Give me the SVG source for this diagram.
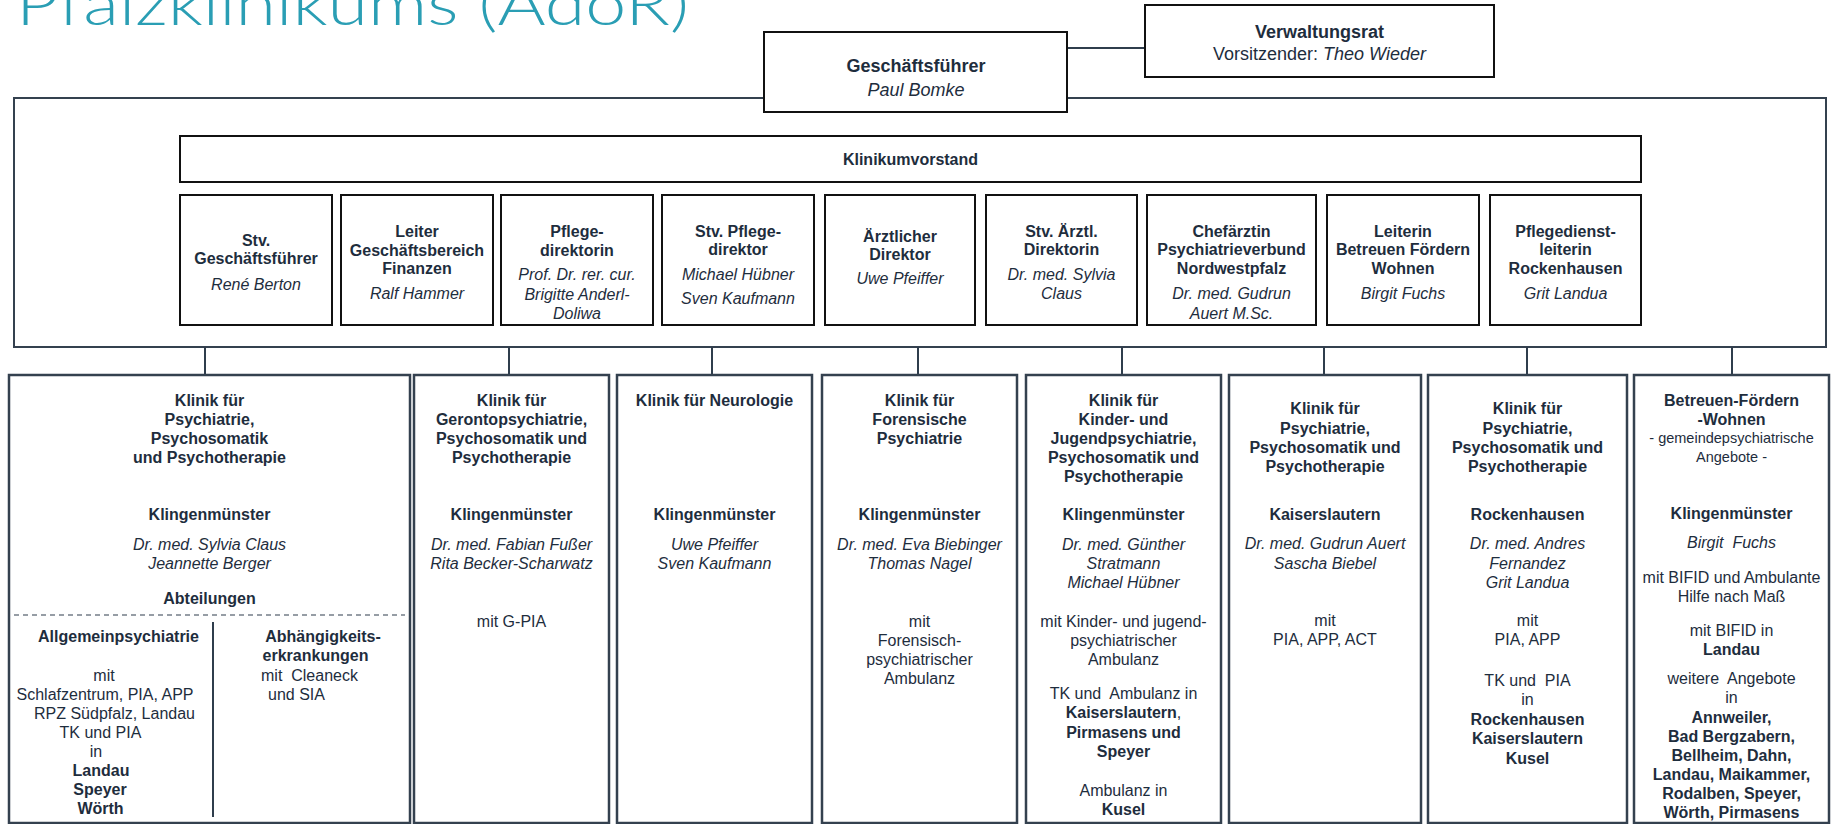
<svg xmlns="http://www.w3.org/2000/svg" width="1837" height="824" viewBox="0 0 1837 824">
<style>
text{font-family:"Liberation Sans",Arial,sans-serif;font-size:16px;fill:#1e2d3d;text-anchor:middle}
.b{font-weight:bold}
.i{font-style:italic}
.l{text-anchor:start}
.big{font-size:18px}
.sm{font-size:14.5px}
.title{font-family:"Lato","Open Sans",sans-serif;font-weight:300;font-size:60px;fill:#2a9eb4;text-anchor:start}
.box{fill:#fff;stroke:#111;stroke-width:2}
.outer{fill:none;stroke:#34414f;stroke-width:2}
.kbox{fill:#fff;stroke:#34414f;stroke-width:2.5}
.conn{stroke:#2f3d4c;stroke-width:2;fill:none}
.dash{stroke:#2f3d4c;stroke-width:1.2;stroke-dasharray:5 4;fill:none}
</style>

<text class="title" x="16" y="25" textLength="673" lengthAdjust="spacingAndGlyphs">Pfalzklinikums (AdöR)</text>

<g id="vorstand-frame">
<rect class="outer" x="14" y="98" width="1812" height="249"/>
</g>

<g id="connectors">
<line class="conn" x1="1067" y1="48" x2="1145" y2="48"/>
<line class="conn" x1="205" y1="347" x2="205" y2="375"/>
<line class="conn" x1="509" y1="347" x2="509" y2="375"/>
<line class="conn" x1="712" y1="347" x2="712" y2="375"/>
<line class="conn" x1="918" y1="347" x2="918" y2="375"/>
<line class="conn" x1="1122" y1="347" x2="1122" y2="375"/>
<line class="conn" x1="1324" y1="347" x2="1324" y2="375"/>
<line class="conn" x1="1527" y1="347" x2="1527" y2="375"/>
<line class="conn" x1="1732" y1="347" x2="1732" y2="375"/>
</g>

<g id="geschaeftsfuehrer">
<rect class="box" x="764" y="32" width="303" height="80"/>
<text class="b big" x="916" y="71.5">Geschäftsführer</text>
<text class="i big" x="916" y="95.5">Paul Bomke</text>
</g>

<g id="verwaltungsrat">
<rect class="box" x="1145" y="5" width="349" height="72"/>
<text class="b big" x="1319.5" y="38">Verwaltungsrat</text>
<text class="big" x="1319.5" y="59.5">Vorsitzender: <tspan class="i">Theo Wieder</tspan></text>
</g>

<g id="klinikumvorstand">
<rect class="box" x="180" y="136" width="1461" height="46"/>
<text class="b" x="910.5" y="165">Klinikumvorstand</text>
</g>

<g id="v1">
<rect class="box" x="180" y="195" width="152" height="130"/>
<text class="b" x="256" y="245.7">Stv.</text>
<text class="b" x="256" y="264">Geschäftsführer</text>
<text class="i" x="256" y="290">René Berton</text>
</g>
<g id="v2">
<rect class="box" x="341" y="195" width="152" height="130"/>
<text class="b" x="417" y="236.5">Leiter</text>
<text class="b" x="417" y="255.5">Geschäftsbereich</text>
<text class="b" x="417" y="274">Finanzen</text>
<text class="i" x="417" y="299">Ralf Hammer</text>
</g>
<g id="v3">
<rect class="box" x="501" y="195" width="152" height="130"/>
<text class="b" x="577" y="236.5">Pflege-</text>
<text class="b" x="577" y="255.5">direktorin</text>
<text class="i" x="577" y="280">Prof. Dr. rer. cur.</text>
<text class="i" x="577" y="299.5">Brigitte Anderl-</text>
<text class="i" x="577" y="318.5">Doliwa</text>
</g>
<g id="v4">
<rect class="box" x="662" y="195" width="152" height="130"/>
<text class="b" x="738" y="236.5">Stv. Pflege-</text>
<text class="b" x="738" y="255">direktor</text>
<text class="i" x="738" y="280">Michael Hübner</text>
<text class="i" x="738" y="304">Sven Kaufmann</text>
</g>
<g id="v5">
<rect class="box" x="825" y="195" width="150" height="130"/>
<text class="b" x="900" y="242">Ärztlicher</text>
<text class="b" x="900" y="260">Direktor</text>
<text class="i" x="900" y="284">Uwe Pfeiffer</text>
</g>
<g id="v6">
<rect class="box" x="986" y="195" width="151" height="130"/>
<text class="b" x="1061.5" y="236.5">Stv. Ärztl.</text>
<text class="b" x="1061.5" y="255">Direktorin</text>
<text class="i" x="1061.5" y="280">Dr. med. Sylvia</text>
<text class="i" x="1061.5" y="299">Claus</text>
</g>
<g id="v7">
<rect class="box" x="1147" y="195" width="169" height="130"/>
<text class="b" x="1231.5" y="236.5">Chefärztin</text>
<text class="b" x="1231.5" y="255">Psychiatrieverbund</text>
<text class="b" x="1231.5" y="274">Nordwestpfalz</text>
<text class="i" x="1231.5" y="299">Dr. med. Gudrun</text>
<text class="i" x="1231.5" y="318.5">Auert M.Sc.</text>
</g>
<g id="v8">
<rect class="box" x="1327" y="195" width="152" height="130"/>
<text class="b" x="1403" y="236.5">Leiterin</text>
<text class="b" x="1403" y="255">Betreuen Fördern</text>
<text class="b" x="1403" y="274">Wohnen</text>
<text class="i" x="1403" y="299">Birgit Fuchs</text>
</g>
<g id="v9">
<rect class="box" x="1490" y="195" width="151" height="130"/>
<text class="b" x="1565.5" y="236.5">Pflegedienst-</text>
<text class="b" x="1565.5" y="255">leiterin</text>
<text class="b" x="1565.5" y="274">Rockenhausen</text>
<text class="i" x="1565.5" y="299">Grit Landua</text>
</g>

<g id="k1">
<rect class="kbox" x="9" y="375" width="401" height="448"/>
<text class="b" x="209.5" y="405.5">Klinik für</text>
<text class="b" x="209.5" y="424.5">Psychiatrie,</text>
<text class="b" x="209.5" y="443.5">Psychosomatik</text>
<text class="b" x="209.5" y="462.5">und Psychotherapie</text>
<text class="b" x="209.5" y="520">Klingenmünster</text>
<text class="i" x="209.5" y="550">Dr. med. Sylvia Claus</text>
<text class="i" x="209.5" y="568.5">Jeannette Berger</text>
<text class="b" x="209.5" y="603.5">Abteilungen</text>
<line class="dash" x1="14" y1="615" x2="405" y2="615"/>
<line class="conn" x1="213" y1="622" x2="213" y2="817"/>
<text class="b" x="118.5" y="642">Allgemeinpsychiatrie</text>
<text x="104" y="681">mit</text>
<text x="105" y="700">Schlafzentrum, PIA, APP</text>
<text x="114.5" y="719">RPZ Südpfalz, Landau</text>
<text x="100.5" y="738">TK und PIA</text>
<text x="96" y="757">in</text>
<text class="b" x="101" y="776">Landau</text>
<text class="b" x="100" y="795">Speyer</text>
<text class="b" x="100.5" y="814">Wörth</text>
<text class="b" x="323" y="642">Abhängigkeits-</text>
<text class="b" x="315.5" y="661">erkrankungen</text>
<text class="l" x="261" y="681" xml:space="preserve">mit  Cleaneck</text>
<text class="l" x="268" y="700">und SIA</text>
</g>

<g id="k2">
<rect class="kbox" x="414" y="375" width="195" height="448"/>
<text class="b" x="511.5" y="405.5">Klinik für</text>
<text class="b" x="511.5" y="424.5">Gerontopsychiatrie,</text>
<text class="b" x="511.5" y="443.5">Psychosomatik und</text>
<text class="b" x="511.5" y="462.5">Psychotherapie</text>
<text class="b" x="511.5" y="520">Klingenmünster</text>
<text class="i" x="511.5" y="550">Dr. med. Fabian Fußer</text>
<text class="i" x="511.5" y="568.5">Rita Becker-Scharwatz</text>
<text x="511.5" y="627">mit G-PIA</text>
</g>

<g id="k3">
<rect class="kbox" x="617" y="375" width="195" height="448"/>
<text class="b" x="714.5" y="405.5">Klinik für Neurologie</text>
<text class="b" x="714.5" y="520">Klingenmünster</text>
<text class="i" x="714.5" y="550">Uwe Pfeiffer</text>
<text class="i" x="714.5" y="568.5">Sven Kaufmann</text>
</g>

<g id="k4">
<rect class="kbox" x="822" y="375" width="195" height="448"/>
<text class="b" x="919.5" y="405.5">Klinik für</text>
<text class="b" x="919.5" y="424.5">Forensische</text>
<text class="b" x="919.5" y="443.5">Psychiatrie</text>
<text class="b" x="919.5" y="520">Klingenmünster</text>
<text class="i" x="919.5" y="550">Dr. med. Eva Biebinger</text>
<text class="i" x="919.5" y="568.5">Thomas Nagel</text>
<text x="919.5" y="627">mit</text>
<text x="919.5" y="646">Forensisch-</text>
<text x="919.5" y="665">psychiatrischer</text>
<text x="919.5" y="683.5">Ambulanz</text>
</g>

<g id="k5">
<rect class="kbox" x="1026" y="375" width="195" height="448"/>
<text class="b" x="1123.5" y="405.5">Klinik für</text>
<text class="b" x="1123.5" y="424.5">Kinder- und</text>
<text class="b" x="1123.5" y="443.5">Jugendpsychiatrie,</text>
<text class="b" x="1123.5" y="462.5">Psychosomatik und</text>
<text class="b" x="1123.5" y="482">Psychotherapie</text>
<text class="b" x="1123.5" y="520">Klingenmünster</text>
<text class="i" x="1123.5" y="550">Dr. med. Günther</text>
<text class="i" x="1123.5" y="568.5">Stratmann</text>
<text class="i" x="1123.5" y="587.5">Michael Hübner</text>
<text x="1123.5" y="627">mit Kinder- und jugend-</text>
<text x="1123.5" y="646">psychiatrischer</text>
<text x="1123.5" y="665">Ambulanz</text>
<text x="1123.5" y="699" xml:space="preserve">TK und  Ambulanz in</text>
<text x="1123.5" y="718"><tspan class="b">Kaiserslautern</tspan>,</text>
<text class="b" x="1123.5" y="738">Pirmasens und</text>
<text class="b" x="1123.5" y="757">Speyer</text>
<text x="1123.5" y="795.5">Ambulanz in</text>
<text class="b" x="1123.5" y="814.5">Kusel</text>
</g>

<g id="k6">
<rect class="kbox" x="1229" y="375" width="192" height="448"/>
<text class="b" x="1325" y="414">Klinik für</text>
<text class="b" x="1325" y="433.5">Psychiatrie,</text>
<text class="b" x="1325" y="452.5">Psychosomatik und</text>
<text class="b" x="1325" y="472">Psychotherapie</text>
<text class="b" x="1325" y="520">Kaiserslautern</text>
<text class="i" x="1325" y="549">Dr. med. Gudrun Auert</text>
<text class="i" x="1325" y="568.5">Sascha Biebel</text>
<text x="1325" y="626">mit</text>
<text x="1325" y="644.5">PIA, APP, ACT</text>
</g>

<g id="k7">
<rect class="kbox" x="1428" y="375" width="199" height="448"/>
<text class="b" x="1527.5" y="414">Klinik für</text>
<text class="b" x="1527.5" y="433.5">Psychiatrie,</text>
<text class="b" x="1527.5" y="452.5">Psychosomatik und</text>
<text class="b" x="1527.5" y="472">Psychotherapie</text>
<text class="b" x="1527.5" y="520">Rockenhausen</text>
<text class="i" x="1527.5" y="549">Dr. med. Andres</text>
<text class="i" x="1527.5" y="568.5">Fernandez</text>
<text class="i" x="1527.5" y="588">Grit Landua</text>
<text x="1527.5" y="626">mit</text>
<text x="1527.5" y="644.5">PIA, APP</text>
<text x="1527.5" y="685.5" xml:space="preserve">TK und  PIA</text>
<text x="1527.5" y="704.5">in</text>
<text class="b" x="1527.5" y="725">Rockenhausen</text>
<text class="b" x="1527.5" y="744">Kaiserslautern</text>
<text class="b" x="1527.5" y="763.5">Kusel</text>
</g>

<g id="k8">
<rect class="kbox" x="1634" y="375" width="195" height="448"/>
<text class="b" x="1731.5" y="406">Betreuen-Fördern</text>
<text class="b" x="1731.5" y="425">-Wohnen</text>
<text class="sm" x="1731.5" y="443">- gemeindepsychiatrische</text>
<text class="sm" x="1731.5" y="461.5">Angebote -</text>
<text class="b" x="1731.5" y="518.5">Klingenmünster</text>
<text class="i" x="1731.5" y="547.5" xml:space="preserve">Birgit  Fuchs</text>
<text x="1731.5" y="582.5">mit BIFID und Ambulante</text>
<text x="1731.5" y="601.5">Hilfe nach Maß</text>
<text x="1731.5" y="636">mit BIFID in</text>
<text class="b" x="1731.5" y="655">Landau</text>
<text x="1731.5" y="683.5" xml:space="preserve">weitere  Angebote</text>
<text x="1731.5" y="703">in</text>
<text class="b" x="1731.5" y="722.5">Annweiler,</text>
<text class="b" x="1731.5" y="741.5">Bad Bergzabern,</text>
<text class="b" x="1731.5" y="760.5">Bellheim, Dahn,</text>
<text class="b" x="1731.5" y="779.5">Landau, Maikammer,</text>
<text class="b" x="1731.5" y="798.5">Rodalben, Speyer,</text>
<text class="b" x="1731.5" y="817.5">Wörth, Pirmasens</text>
</g>
</svg>
